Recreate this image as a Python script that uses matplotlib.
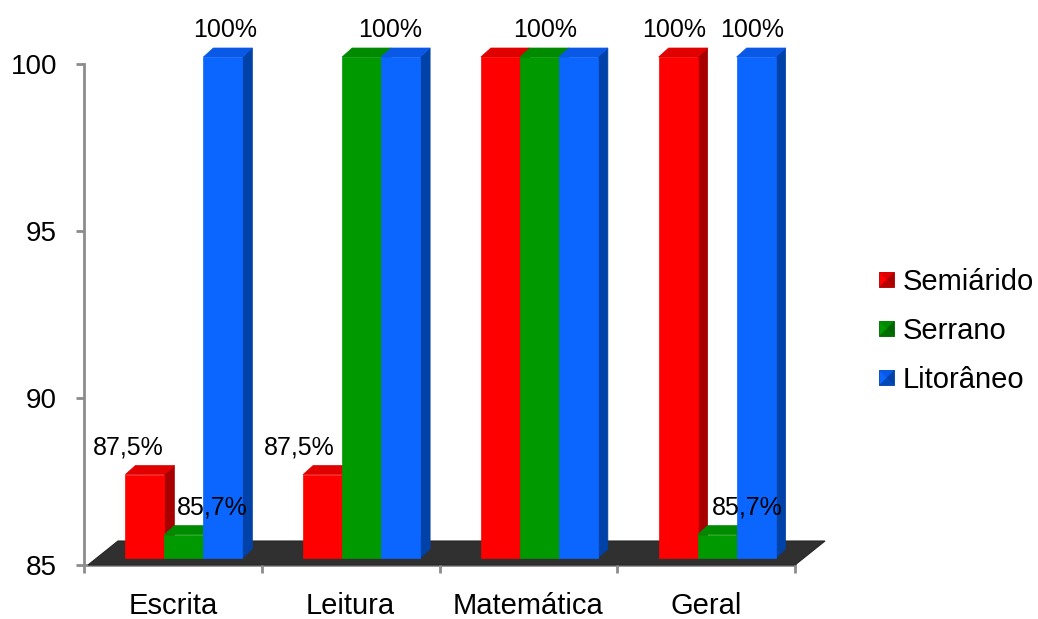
import matplotlib
matplotlib.use('Agg')
import matplotlib.pyplot as plt
from matplotlib.patches import Polygon, Rectangle
from matplotlib.transforms import ScaledTranslation
from matplotlib.legend_handler import HandlerBase

# Aprovação por região (%)
categories = ['Escrita', 'Leitura', 'Matemática', 'Geral']
series_names = ['Semiárido', 'Serrano', 'Litorâneo']
semiarido = [87.5, 87.5, 100, 100]
serrano = [85.7, 100, 100, 85.7]
litoraneo = [100, 100, 100, 100]

# rótulos de dados exibidos (None = sem rótulo)
semiarido_labels = ['87,5%', '87,5%', None, '100%']
serrano_labels = ['85,7%', None, '100%', '85,7%']
litoraneo_labels = ['100%', '100%', None, '100%']

y_ticks = [85, 90, 95, 100]

# cores: frente, lateral, topo
palette = {
    'Semiárido': ('#ff0000', '#a80000', '#e00000'),
    'Serrano': ('#009a00', '#006400', '#008a00'),
    'Litorâneo': ('#0a66ff', '#0042a8', '#0a58e6'),
}

# deslocamento horizontal dos rótulos (px)
label_nudge = {(0, 0): -17, (0, 1): 28, (0, 2): 2,
               (1, 0): -23, (1, 2): -10,
               (2, 1): 6,
               (3, 0): -4, (3, 1): 30, (3, 2): -4}

plt.rcParams['font.family'] = ['Liberation Sans', 'DejaVu Sans']

DPI = 100
fig = plt.figure(figsize=(10.38, 6.19), dpi=DPI)
ax = fig.add_axes([84 / 1038, 1 - 565 / 619, 711 / 1038, 501 / 619])
ax.set_xlim(-0.5, 3.5)
ax.set_ylim(85, 100)

# pixels por unidade de dados
px_x = ax.bbox.width / 4.0
px_y = ax.bbox.height / 15.0

base = 85
w = 39 / px_x          # largura da barra
ddx = 10 / px_x        # profundidade da barra
ddy = 9 / px_y

# piso escuro
fx0 = -0.5 + 4 / px_x
fx1 = 3.5
fdx = 30 / px_x
fdy = 24 / px_y
floor = Polygon([(fx0, base), (fx1, base), (fx1 + fdx, base + fdy), (fx0 + fdx, base + fdy)],
                closed=True, facecolor='#303030', edgecolor='#262626', lw=0.8,
                transform=ax.transData, clip_on=False, zorder=1)
ax.add_patch(floor)

front_tr = ax.transData + ScaledTranslation(11 / DPI, 7 / DPI, fig.dpi_scale_trans)

all_values = [semiarido, serrano, litoraneo]
all_labels = [semiarido_labels, serrano_labels, litoraneo_labels]

for j, (name, vals, labs) in enumerate(zip(series_names, all_values, all_labels)):
    front, side, top = palette[name]
    xs = [i + (j - 1) * w for i in range(len(categories))]
    bars = ax.bar(xs, [v - base for v in vals], bottom=base, width=w,
                  color=front, edgecolor=front, lw=0.5, zorder=2.5 + j)
    for b in bars:
        b.set_transform(front_tr)
        b.set_clip_on(False)
    for i, (x, v) in enumerate(zip(xs, vals)):
        xl, xr = x - w / 2, x + w / 2
        ax.add_patch(Polygon([(xr, base), (xr + ddx, base + ddy), (xr + ddx, v + ddy), (xr, v)],
                             closed=True, facecolor=side, edgecolor=side, lw=0.5,
                             transform=front_tr, clip_on=False, zorder=2 + j))
        ax.add_patch(Polygon([(xl, v), (xr, v), (xr + ddx, v + ddy), (xl + ddx, v + ddy)],
                             closed=True, facecolor=top, edgecolor=top, lw=0.5,
                             transform=front_tr, clip_on=False, zorder=2 + j))
        if labs[i] is not None:
            ax.annotate(labs[i], xy=(x, v), xycoords=front_tr,
                        xytext=(label_nudge.get((i, j), 0) * 0.72, 20 * 0.72),
                        textcoords='offset points', ha='center', va='baseline',
                        fontsize=18, color='black', zorder=10, annotation_clip=False)

# eixos
for s in ['top', 'right']:
    ax.spines[s].set_visible(False)
for s in ['left', 'bottom']:
    ax.spines[s].set_color('#8c8c8c')
    ax.spines[s].set_linewidth(2)
    ax.spines[s].set_zorder(0.5)

ax.set_yticks(y_ticks)
ax.set_yticklabels([str(t) for t in y_ticks])
ax.tick_params(axis='y', length=6, width=2, color='#8c8c8c', pad=13.5, labelsize=20)

ax.set_xticks([-0.5, 0.5, 1.5, 2.5, 3.5])
ax.set_xticklabels([])
ax.tick_params(axis='x', which='major', length=6, width=2, color='#8c8c8c')
ax.set_xticks(range(len(categories)), minor=True)
ax.set_xticklabels(categories, minor=True)
ax.tick_params(axis='x', which='minor', length=0, pad=19.5, labelsize=21)


class BevelHandler(HandlerBase):
    def create_artists(self, legend, orig_handle, xdescent, ydescent,
                       width, height, fontsize, trans):
        front, side, top = palette[orig_handle.get_label()]
        s = min(width, height)
        x0 = -xdescent + (width - s) / 2
        y0 = -ydescent + (height - s) / 2
        c = (x0 + s / 2, y0 + s / 2)
        arts = [Rectangle((x0, y0), s, s, facecolor=front, edgecolor=side, lw=0.6)]
        arts.append(Polygon([(x0, y0 + s), (x0 + s, y0 + s), c], facecolor=top, lw=0))
        arts.append(Polygon([(x0 + s, y0 + s), (x0 + s, y0), c], facecolor=side, lw=0))
        arts.append(Polygon([(x0, y0), (x0 + s, y0), c], facecolor=side, lw=0, alpha=0.8))
        for a in arts:
            a.set_transform(trans)
        return arts


handles = [Rectangle((0, 0), 1, 1, label=n) for n in series_names]
fig.legend(handles=handles, labels=series_names, loc='center left',
           bbox_to_anchor=(879 / 1038, 1 - 331 / 619), frameon=False,
           fontsize=21, handlelength=0.52, handleheight=0.52, handletextpad=0.28,
           labelspacing=0.72, borderaxespad=0, borderpad=0,
           handler_map={Rectangle: BevelHandler()})

fig.savefig('out.png', dpi=DPI)
